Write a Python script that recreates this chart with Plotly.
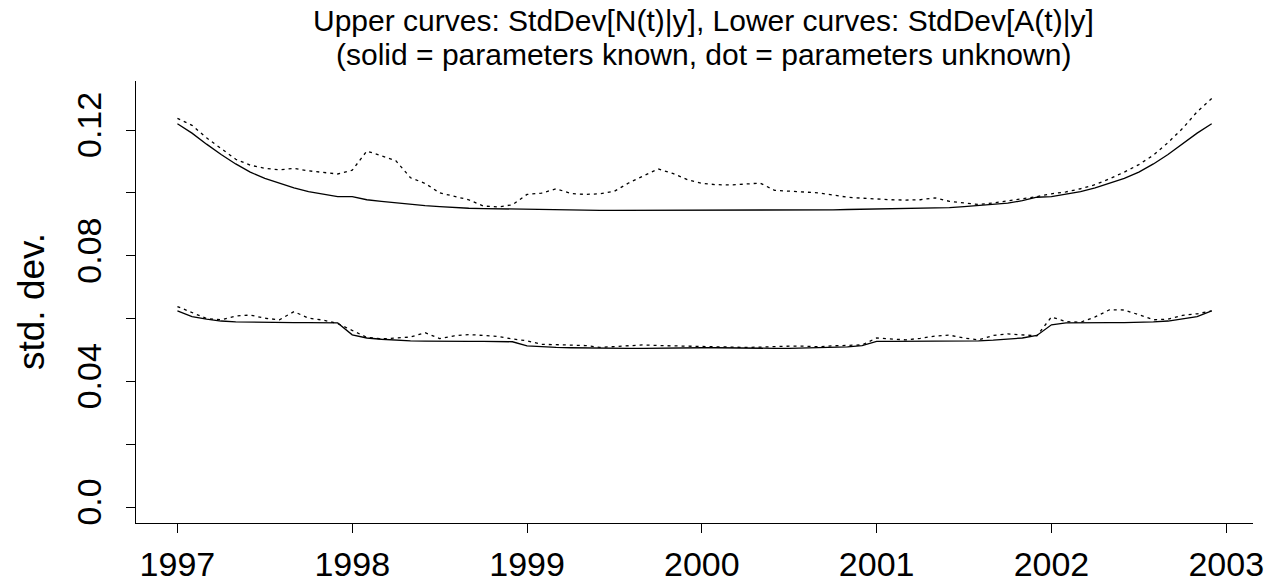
import numpy as np
import plotly.graph_objects as go

# Monthly time grid, Jan 1997 .. Dec 2002
years = 1997 + np.arange(72) / 12.0

# StdDev[N(t)|y], parameters known (solid)
n_known = [
    0.1220, 0.1190, 0.1155, 0.1122, 0.1092, 0.1066, 0.1046, 0.1030, 0.1016, 0.1004, 0.0995, 0.0988,
    0.0988, 0.0978, 0.0973, 0.0968, 0.0963, 0.0959, 0.0956, 0.0953, 0.0951, 0.0950, 0.0949, 0.0949,
    0.0948, 0.0947, 0.0946, 0.0945, 0.0945, 0.0944, 0.0944, 0.0944, 0.0944, 0.0944, 0.0944, 0.0944,
    0.0944, 0.0944, 0.0944, 0.0944, 0.0944, 0.0944, 0.0944, 0.0945, 0.0945, 0.0946, 0.0947, 0.0948,
    0.0948, 0.0949, 0.0949, 0.0950, 0.0951, 0.0953, 0.0956, 0.0959, 0.0962, 0.0967, 0.0975, 0.0986,
    0.0988, 0.0995, 0.1004, 0.1016, 0.1030, 0.1046, 0.1066, 0.1092, 0.1122, 0.1155, 0.1190, 0.1220,
]

# StdDev[N(t)|y], parameters unknown (dotted)
n_unknown = [
    0.1237, 0.1215, 0.1175, 0.1140, 0.1107, 0.1088, 0.1078, 0.1073, 0.1078, 0.1070, 0.1065, 0.1060,
    0.1072, 0.1133, 0.1118, 0.1102, 0.1048, 0.1030, 0.1000, 0.0988, 0.0978, 0.0958, 0.0955, 0.0962,
    0.0995, 0.0999, 0.1013, 0.0998, 0.0995, 0.0997, 0.1005, 0.1032, 0.1055, 0.1076, 0.1062, 0.1042,
    0.1030, 0.1026, 0.1025, 0.1028, 0.1031, 0.1008, 0.1005, 0.1003, 0.1000, 0.0993, 0.0986, 0.0983,
    0.0980, 0.0978, 0.0977, 0.0978, 0.0984, 0.0973, 0.0968, 0.0963, 0.0968, 0.0975, 0.0980, 0.0988,
    0.0997, 0.1003, 0.1013, 0.1026, 0.1045, 0.1066, 0.1090, 0.1120, 0.1160, 0.1205, 0.1258, 0.1300,
]

# StdDev[A(t)|y], parameters known (solid)
a_known = [
    0.0624, 0.0606, 0.0598, 0.0592, 0.0589, 0.0588, 0.0587, 0.0587, 0.0587, 0.0587, 0.0587, 0.0586,
    0.0548, 0.0538, 0.0534, 0.0531, 0.0529, 0.0528, 0.0527, 0.0527, 0.0527, 0.0527, 0.0527, 0.0526,
    0.0513, 0.0510, 0.0508, 0.0507, 0.0506, 0.0505, 0.0505, 0.0505, 0.0505, 0.0506, 0.0506, 0.0507,
    0.0507, 0.0507, 0.0506, 0.0505, 0.0505, 0.0505, 0.0505, 0.0506, 0.0507, 0.0508, 0.0510, 0.0514,
    0.0527, 0.0527, 0.0527, 0.0527, 0.0527, 0.0528, 0.0528, 0.0529, 0.0531, 0.0534, 0.0538, 0.0546,
    0.0580, 0.0586, 0.0587, 0.0587, 0.0587, 0.0587, 0.0587, 0.0589, 0.0592, 0.0598, 0.0606, 0.0624,
]

# StdDev[A(t)|y], parameters unknown (dotted)
a_unknown = [
    0.0638, 0.0618, 0.0600, 0.0596, 0.0608, 0.0611, 0.0601, 0.0596, 0.0622, 0.0601, 0.0595, 0.0584,
    0.0562, 0.0540, 0.0535, 0.0539, 0.0541, 0.0555, 0.0536, 0.0545, 0.0549, 0.0546, 0.0543, 0.0535,
    0.0529, 0.0518, 0.0517, 0.0516, 0.0514, 0.0508, 0.0510, 0.0514, 0.0516, 0.0514, 0.0513, 0.0512,
    0.0510, 0.0508, 0.0507, 0.0508, 0.0509, 0.0511, 0.0512, 0.0512, 0.0510, 0.0513, 0.0514, 0.0516,
    0.0538, 0.0536, 0.0532, 0.0537, 0.0544, 0.0547, 0.0538, 0.0532, 0.0546, 0.0551, 0.0547, 0.0545,
    0.0605, 0.0590, 0.0588, 0.0605, 0.0628, 0.0627, 0.0612, 0.0596, 0.0598, 0.0610, 0.0615, 0.0624,
]

x_ticks = [1997, 1998, 1999, 2000, 2001, 2002, 2003]
y_ticks = [0.0, 0.02, 0.04, 0.06, 0.08, 0.10, 0.12]
y_tick_text = ["0.0", "", "0.04", "", "0.08", "", "0.12"]

FONT = "Liberation Sans, Arial, Helvetica, sans-serif"
solid = dict(color="black", width=1.3)
dotted = dict(color="black", width=1.3, dash="3px,4px")

fig = go.Figure()
fig.add_trace(go.Scatter(x=years, y=n_known, mode="lines", line=solid))
fig.add_trace(go.Scatter(x=years, y=n_unknown, mode="lines", line=dotted))
fig.add_trace(go.Scatter(x=years, y=a_known, mode="lines", line=solid))
fig.add_trace(go.Scatter(x=years, y=a_unknown, mode="lines", line=dotted))

fig.update_layout(
    width=1278, height=586,
    margin=dict(l=136, r=25, t=81, b=63, autoexpand=False),
    paper_bgcolor="white", plot_bgcolor="white",
    showlegend=False,
    font=dict(family=FONT, color="black"),
    xaxis=dict(
        range=[1996.763, 2003.153], tickvals=x_ticks, ticktext=[str(v) for v in x_ticks],
        showgrid=False, zeroline=False, showline=True, linecolor="black", linewidth=1.2,
        ticks="outside", ticklen=9, tickwidth=1.2, tickcolor="black", automargin=False,
        tickfont=dict(size=34, family=FONT), ticklabelstandoff=2,
    ),
    yaxis=dict(
        range=[-0.00509, 0.1356], tickvals=y_ticks, ticktext=y_tick_text,
        showgrid=False, zeroline=False, showline=True, linecolor="black", linewidth=1.2,
        ticks="outside", ticklen=9, tickwidth=1.2, tickcolor="black", automargin=False,
        tickfont=dict(size=34, family=FONT), tickangle=-90, ticklabelstandoff=11,
    ),
    annotations=[
        dict(text="Upper curves: StdDev[N(t)|y], Lower curves: StdDev[A(t)|y]",
             xref="paper", yref="paper", x=0.508, y=1.138, showarrow=False,
             xanchor="center", yanchor="middle", font=dict(size=30, family=FONT)),
        dict(text="(solid = parameters known, dot = parameters unknown)",
             xref="paper", yref="paper", x=0.508, y=1.059, showarrow=False,
             xanchor="center", yanchor="middle", font=dict(size=30, family=FONT)),
        dict(text="std. dev.", textangle=-90,
             xref="paper", yref="paper", x=(31 - 136) / 1117, y=0.5, showarrow=False,
             xanchor="center", yanchor="middle", font=dict(size=37, family=FONT)),
    ],
)

fig.write_html("out.html")
